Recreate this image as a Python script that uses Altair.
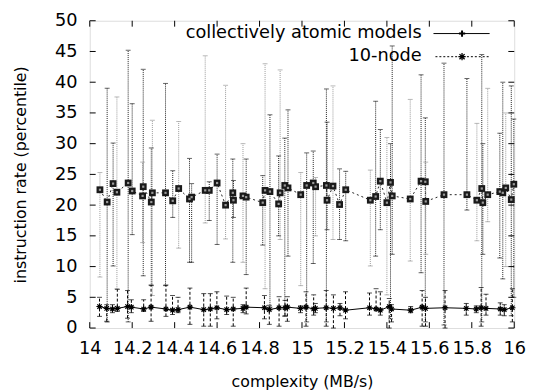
import altair as alt
import pandas as pd

# ---------------- data ----------------
up_x = [14.048, 14.082, 14.110, 14.128, 14.181, 14.200, 14.249, 14.252, 14.290, 14.295,
        14.357, 14.391, 14.419, 14.470, 14.480, 14.544, 14.563, 14.600, 14.640, 14.674,
        14.677, 14.722, 14.737, 14.815, 14.826, 14.849, 14.890, 14.897, 14.919, 14.934,
        14.994, 15.022, 15.053, 15.064, 15.115, 15.118, 15.146, 15.177, 15.206, 15.322,
        15.347, 15.369, 15.400, 15.417, 15.425, 15.510, 15.561, 15.581, 15.583, 15.669,
        15.777, 15.824, 15.847, 15.852, 15.875, 15.932, 15.946, 15.960, 15.986, 15.998]
up_y = [22.5, 20.5, 23.5, 22.1, 23.6, 22.3, 21.5, 23.0, 20.5, 22.0,
        22.0, 20.7, 22.7, 21.0, 21.3, 22.4, 22.4, 23.6, 20.0, 22.0,
        20.8, 21.5, 21.3, 20.4, 22.4, 22.2, 20.2, 22.0, 23.2, 22.8,
        21.7, 23.2, 23.6, 23.0, 23.2, 20.8, 23.1, 20.1, 22.5, 20.8,
        21.4, 23.9, 20.4, 23.7, 21.5, 21.0, 23.9, 23.8, 20.6, 21.7,
        21.7, 20.8, 22.7, 20.4, 21.7, 22.2, 22.0, 22.8, 20.9, 23.4]
up_lo = [8.3, 1.0, 10.1, 6.4, 1.0, 15.2, 13.9, 8.5, 6.9, 5.3,
         6.9, 18.0, 13.0, 10.7, 10.7, 17.1, 17.5, 13.6, 14.5, 10.7,
         18.0, 10.7, 8.7, 13.5, 6.4, 3.4, 15.0, 14.4, 1.9, 11.7,
         6.9, 1.0, 10.5, 15.0, 1.0, 16.0, 14.4, 14.4, 14.2, 10.1,
         11.7, 16.0, 5.4, 1.5, 12.0, 10.9, 9.0, 1.0, 12.0, 0.5,
         19.2, 14.2, 1.0, 12.0, 17.3, 11.4, 8.0, 10.0, 2.0, 5.0]
up_hi = [25.3, 39.0, 30.1, 37.6, 45.2, 36.5, 27.0, 42.1, 29.3, 33.8,
         39.8, 25.6, 33.6, 27.6, 23.5, 44.3, 23.8, 28.3, 39.5, 27.5,
         24.0, 30.0, 27.5, 24.8, 43.0, 34.7, 28.0, 42.0, 30.9, 35.5,
         25.3, 28.5, 28.8, 24.5, 38.9, 33.5, 39.4, 25.9, 25.5, 25.7,
         36.9, 32.3, 31.0, 30.0, 45.9, 37.2, 41.2, 34.2, 27.0, 43.1,
         40.6, 33.3, 44.5, 30.0, 39.0, 31.7, 40.0, 35.0, 39.4, 34.0]

lo_x = [14.046, 14.080, 14.107, 14.130, 14.178, 14.196, 14.254, 14.289, 14.359, 14.390,
        14.416, 14.472, 14.537, 14.568, 14.599, 14.645, 14.676, 14.722, 14.737, 14.823,
        14.846, 14.892, 14.920, 14.931, 14.993, 15.019, 15.055, 15.063, 15.114, 15.148,
        15.179, 15.205, 15.318, 15.349, 15.369, 15.411, 15.422, 15.512, 15.566, 15.582,
        15.674, 15.774, 15.821, 15.844, 15.867, 15.934, 15.953, 15.991]
lo_y = [3.5, 3.2, 3.1, 3.2, 3.5, 3.4, 3.1, 3.4, 3.1, 2.9,
        3.0, 3.4, 3.0, 3.1, 3.3, 3.0, 3.1, 3.2, 3.4, 3.3,
        3.0, 3.3, 3.3, 3.4, 3.2, 3.4, 3.1, 3.2, 3.3, 3.2,
        3.3, 2.9, 3.3, 3.1, 2.9, 3.5, 3.1, 2.9, 3.4, 3.2,
        3.3, 3.2, 3.1, 3.3, 3.2, 3.1, 3.0, 3.3]
lo_lo = [1.9, 1.1, 2.5, 2.7, 1.6, 2.5, 2.7, 1.1, 1.9, 2.2,
         2.5, 0.6, 0.3, 0.3, 1.5, 2.2, 0.3, 2.5, 2.3, 1.5,
         0.6, 0.3, 2.0, 1.1, 2.5, 0.3, 2.1, 2.5, 0.3, 0.0,
         2.0, 1.5, 2.1, 3.2, 2.1, 0.0, 1.0, 2.5, 0.3, 0.3,
         0.0, 2.1, 2.5, 0.3, 2.1, 2.1, 2.0, 1.0]
lo_hi = [5.0, 3.8, 3.8, 6.3, 6.1, 4.6, 4.6, 7.0, 7.0, 5.3,
         5.0, 6.5, 5.6, 5.6, 5.9, 5.2, 5.0, 3.8, 6.5, 5.3,
         3.7, 5.1, 4.5, 5.1, 3.6, 5.9, 5.4, 4.0, 6.1, 5.4,
         4.0, 5.9, 5.7, 6.4, 5.9, 4.8, 3.8, 3.5, 6.1, 5.0,
         6.1, 4.0, 3.6, 6.6, 5.5, 4.1, 3.8, 6.4]

x_ticks = [14, 14.2, 14.4, 14.6, 14.8, 15, 15.2, 15.4, 15.6, 15.8, 16]
y_ticks = [0, 5, 10, 15, 20, 25, 30, 35, 40, 45, 50]
legend_labels = ["collectively atomic models", "10-node"]

# ---------------- frames ----------------
up = pd.DataFrame({"x": up_x, "y": up_y, "lo": up_lo, "hi": up_hi})
up["shade"] = [("a" if i % 3 else "b") for i in range(len(up))]
lo = pd.DataFrame({"x": lo_x, "y": lo_y, "lo": lo_lo, "hi": lo_hi})
xt = pd.DataFrame({"v": x_ticks})
yt = pd.DataFrame({"v": y_ticks})

W, H = 431, 312
FONT = "DejaVu Sans"

xs = alt.Scale(domain=[14, 16], nice=False, zero=False)
ys = alt.Scale(domain=[0, 50], nice=False)

XAX = alt.Axis(
    values=x_ticks, format="~g", title="complexity (MB/s)", tickSize=0, domain=False,
    grid=False, labelPadding=12, labelOverlap=False, labelFlush=False, labelBound=False,
    labelFont=FONT, labelFontSize=18, labelColor="black",
    titleFont=FONT, titleFontSize=16, titleFontWeight="normal", titleColor="black",
    titleY=54, titleBaseline="middle")
YAX = alt.Axis(
    values=y_ticks, title="instruction rate (percentile)", tickSize=0, domain=False,
    grid=False, labelPadding=13, labelOverlap=False, labelFlush=False, labelBound=False,
    labelFont=FONT, labelFontSize=18, labelColor="black",
    titleFont=FONT, titleFontSize=16, titleFontWeight="normal", titleColor="black",
    titleX=-70, titleY=H / 2, titleAngle=-90, titleAlign="center", titleBaseline="middle")


def qx(field):
    return alt.X(field, scale=xs, axis=XAX)


def qy(field):
    return alt.Y(field, scale=ys, axis=YAX)


base_up = alt.Chart(up)
base_lo = alt.Chart(lo)

shade_color = alt.Color("shade:N", scale=alt.Scale(domain=["a", "b"], range=["#222222", "#9a9a9a"]), legend=None)

up_line = base_up.mark_line(color="#222", strokeWidth=1, strokeDash=[2, 3]).encode(x=qx("x:Q"), y=qy("y:Q"))
up_bars = base_up.mark_rule(strokeWidth=1, strokeDash=[1, 1]).encode(
    x=qx("x:Q"), y=qy("lo:Q"), y2="hi:Q", color=shade_color)
up_cap_lo = base_up.mark_tick(orient="horizontal", size=5, thickness=1).encode(
    x=qx("x:Q"), y=qy("lo:Q"), color=shade_color)
up_cap_hi = base_up.mark_tick(orient="horizontal", size=5, thickness=1).encode(
    x=qx("x:Q"), y=qy("hi:Q"), color=shade_color)
up_pts = base_up.mark_square(size=48, color="#1a1a1a", opacity=1).encode(
    x=qx("x:Q"), y=qy("y:Q"))
up_dot = base_up.mark_square(size=5, color="#9a9a9a", opacity=1).encode(
    x=qx("x:Q"), y=qy("y:Q"))

lo_bars = base_lo.mark_rule(strokeWidth=1, strokeDash=[3, 2], color="black").encode(
    x=qx("x:Q"), y=qy("lo:Q"), y2="hi:Q")
lo_cap_lo = base_lo.mark_tick(orient="horizontal", size=5, thickness=1, color="black").encode(
    x=qx("x:Q"), y=qy("lo:Q"))
lo_cap_hi = base_lo.mark_tick(orient="horizontal", size=5, thickness=1, color="black").encode(
    x=qx("x:Q"), y=qy("hi:Q"))
lo_line = base_lo.mark_line(color="black", strokeWidth=1).encode(
    x=qx("x:Q"), y=qy("y:Q"))
STAR = "M-1,0L1,0M0,-1L0,1M-0.7,-0.7L0.7,0.7M-0.7,0.7L0.7,-0.7"
lo_pts = base_lo.mark_point(shape=STAR, size=40, filled=False, color="black", strokeWidth=1.2, opacity=1).encode(
    x=qx("x:Q"), y=qy("y:Q"))

# inward ticks on all four sides (gnuplot style)
tick_b = alt.Chart(xt).mark_rule(color="black").encode(
    x=qx("v:Q"), y=alt.value(H), y2=alt.value(H - 6))
tick_t = alt.Chart(xt).mark_rule(color="black").encode(
    x=qx("v:Q"), y=alt.value(0), y2=alt.value(6))
tick_l = alt.Chart(yt).mark_rule(color="black").encode(
    y=qy("v:Q"), x=alt.value(0), x2=alt.value(6))
tick_r = alt.Chart(yt).mark_rule(color="black").encode(
    y=qy("v:Q"), x=alt.value(W), x2=alt.value(W - 6))

# legend (gnuplot style: text right-aligned, sample to the right)
leg = pd.DataFrame({"label": legend_labels})
leg_text1 = alt.Chart(leg.iloc[[0]]).mark_text(align="right", baseline="middle", font=FONT, fontSize=18, color="black").encode(
    text="label:N", x=alt.value(337), y=alt.value(13))
leg_text2 = alt.Chart(leg.iloc[[1]]).mark_text(align="right", baseline="middle", font=FONT, fontSize=18, color="black").encode(
    text="label:N", x=alt.value(337), y=alt.value(36))
leg_line1 = alt.Chart(leg.iloc[[0]]).mark_rule(color="black", strokeWidth=1).encode(
    x=alt.value(349), x2=alt.value(406), y=alt.value(13))
leg_line2 = alt.Chart(leg.iloc[[1]]).mark_rule(color="black", strokeWidth=1, strokeDash=[2, 2]).encode(
    x=alt.value(351), x2=alt.value(406), y=alt.value(36.5))
leg_m1 = alt.Chart(leg.iloc[[0]]).mark_point(shape="M-1,0L1,0M0,-1L0,1", size=40, filled=False, color="black", opacity=1).encode(
    x=alt.value(378), y=alt.value(13))
leg_m2 = alt.Chart(leg.iloc[[1]]).mark_point(shape=STAR, size=55, filled=False, color="black", strokeWidth=1.3, opacity=1).encode(
    x=alt.value(378), y=alt.value(36.5))

chart = alt.layer(
    up_line, up_bars, up_cap_lo, up_cap_hi, up_pts, up_dot,
    lo_bars, lo_cap_lo, lo_cap_hi, lo_line, lo_pts,
    tick_b, tick_t, tick_l, tick_r,
    leg_text1, leg_text2, leg_line1, leg_line2, leg_m1, leg_m2,
).properties(
    width=W, height=H,
    autosize=alt.AutoSizeParams(type="none"),
    padding={"left": 83, "top": 10, "right": 16, "bottom": 62},
).configure_view(stroke="black", strokeWidth=1).configure(background="white")

chart.save("out.html", embed_options={"renderer": "svg", "actions": False})
